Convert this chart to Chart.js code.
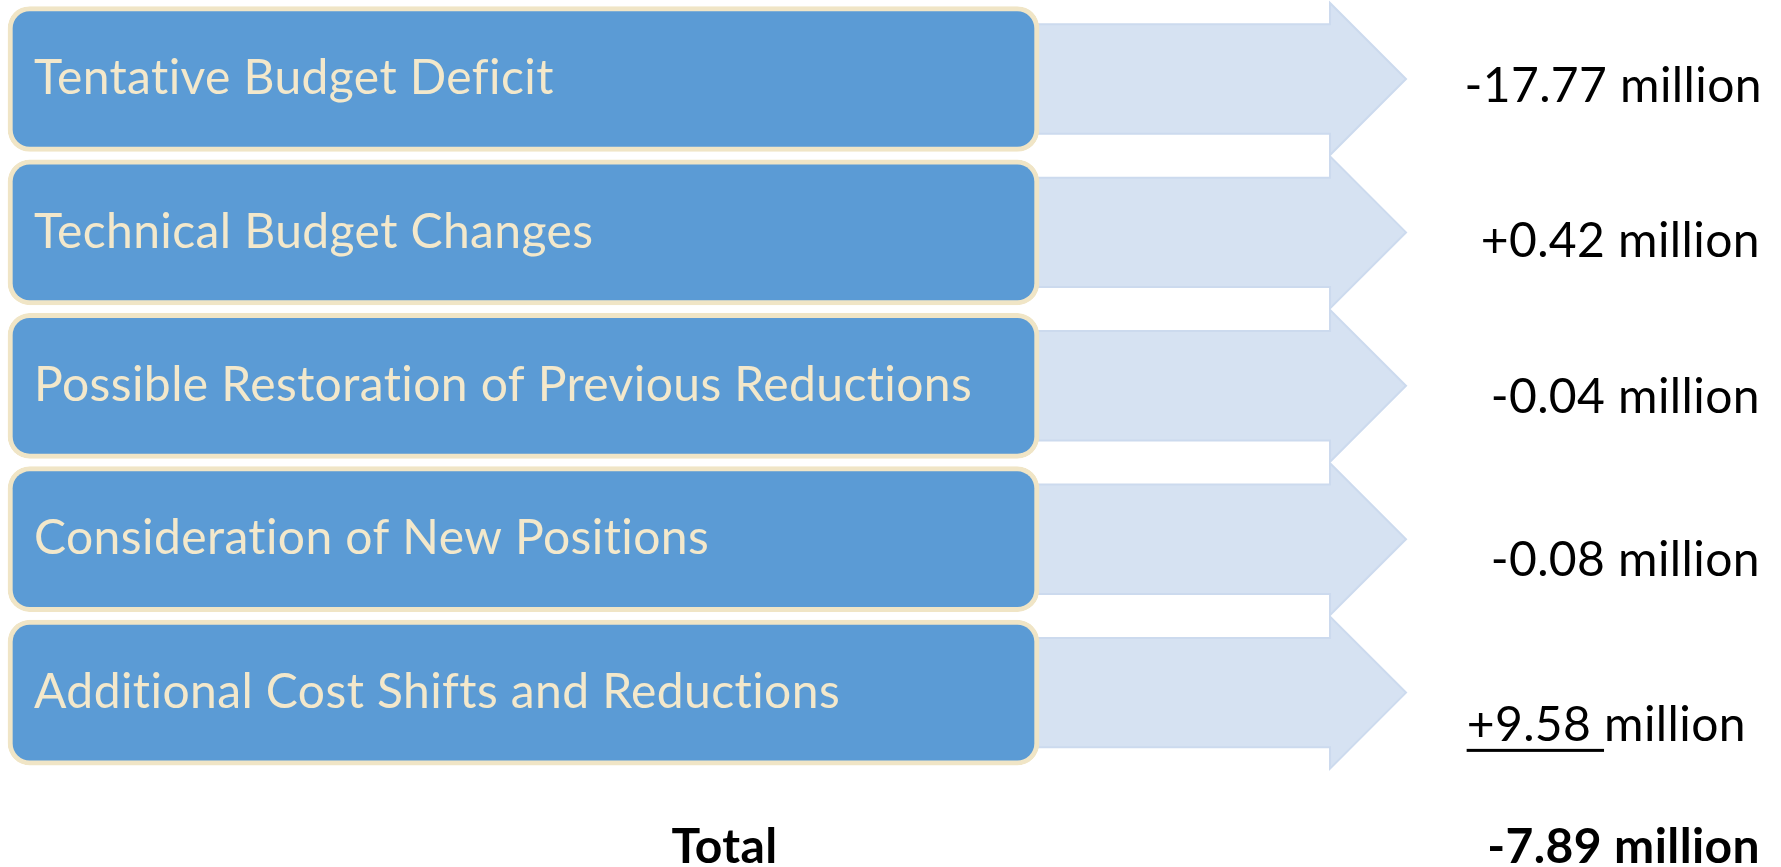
<!DOCTYPE html>
<html>
<head>
<meta charset="utf-8">
<script src="https://cdn.jsdelivr.net/npm/chart.js@4.4.0/dist/chart.umd.min.js"></script>
<style>
  html, body { margin: 0; background: #fff; }
  #wrap { width: 1781px; height: 867px; position: relative; }
</style>
</head>
<body>
<div id="wrap"><canvas id="chart"></canvas></div>
<script>
// ===== Budget bridge: steps from tentative deficit to total =====
const steps = [
  'Tentative Budget Deficit',
  'Technical Budget Changes',
  'Possible Restoration of Previous Reductions',
  'Consideration of New Positions',
  'Additional Cost Shifts and Reductions'
];
const changes = [-17.77, 0.42, -0.04, -0.08, 9.58];
const totalLabel = 'Total';
const totalValue = -7.89;
const unit = 'million';

const rows = [...steps, totalLabel];

const COLORS = {
  box: '#5B9BD5', boxEdge: '#F0E5C6', label: '#F3E8CB',
  arrow: '#D6E2F2', arrowEdge: '#CCDAEE', text: '#000000'
};
const FONT = 'Lato, "Open Sans", sans-serif';
const TXT = 48;                       // px, label + value text
// small hand nudges so the value column sits like the slide
const valueDrop = [6, 7, 10, 20, 31, 0];
const valueInset = [19, 21, 21, 21, 35, 21];

const fmt = v => (v > 0 ? '+' : '') + v.toFixed(2);

// arrows are drawn under the boxes, from the (invisible) arrow bars
const arrowPlugin = {
  id: 'arrows',
  beforeDatasetsDraw(chart) {
    const ctx = chart.ctx;
    const meta = chart.getDatasetMeta(1);
    ctx.save();
    meta.data.forEach(el => {
      const { x, base, y, height } = el.getProps(['x', 'base', 'y', 'height'], true);
      if (![x, base, y, height].every(Number.isFinite)) return;
      const half = height / 2, shaft = half * 0.72, headX = x - half;
      ctx.beginPath();
      ctx.moveTo(base, y - shaft);
      ctx.lineTo(headX, y - shaft);
      ctx.lineTo(headX, y - half);
      ctx.lineTo(x, y);
      ctx.lineTo(headX, y + half);
      ctx.lineTo(headX, y + shaft);
      ctx.lineTo(base, y + shaft);
      ctx.closePath();
      ctx.fillStyle = COLORS.arrow;
      ctx.fill();
      ctx.strokeStyle = COLORS.arrowEdge;
      ctx.lineWidth = 2;
      ctx.stroke();
    });
    ctx.restore();
  }
};

const textPlugin = {
  id: 'texts',
  afterDatasetsDraw(chart) {
    const { ctx, chartArea, scales: { x, y } } = chart;
    ctx.save();
    ctx.letterSpacing = '0.4px';   // also stops the "ti" ligature
    rows.forEach((name, i) => {
      const cy = y.getPixelForValue(i);
      const isTotal = i === steps.length;
      ctx.textBaseline = 'alphabetic';
      if (!isTotal) {
        ctx.font = `${TXT}px ${FONT}`;
        ctx.fillStyle = COLORS.label;
        ctx.textAlign = 'left';
        ctx.fillText(name, x.getPixelForValue(0) + 26, cy + TXT * 0.36 - 2);
      } else {
        ctx.font = `bold ${TXT}px ${FONT}`;
        ctx.fillStyle = COLORS.text;
        ctx.textAlign = 'center';
        ctx.fillText(name, x.getPixelForValue(0.695), cy + TXT * 0.36);
      }

      // value column
      const val = isTotal ? totalValue : changes[i];
      const num = fmt(val) + ' ';
      const str = num + unit;
      ctx.font = `${isTotal ? 'bold ' : ''}${TXT}px ${FONT}`;
      ctx.fillStyle = COLORS.text;
      ctx.textAlign = 'left';
      const w = ctx.measureText(str).width;
      const x0 = chartArea.right - valueInset[i] - w;
      const baseY = cy + valueDrop[i] + TXT * 0.36;
      ctx.fillText(str, x0, baseY);
      if (i === steps.length - 1) {
        const nw = ctx.measureText(num).width;
        ctx.fillRect(x0, baseY + 8, nw, 3);
      }
    });
    ctx.restore();
  }
};

new Chart(document.getElementById('chart'), {
  type: 'bar',
  data: {
    labels: rows,
    datasets: [
      {
        label: 'steps',
        data: steps.map(() => [0, 1]),
        backgroundColor: COLORS.box,
        borderColor: COLORS.boxEdge,
        borderWidth: 5,
        borderRadius: 22,
        borderSkipped: false,
        barThickness: 145,
        grouped: false,
        clip: false,
        order: 0
      },
      {
        label: 'arrows',
        data: steps.map(() => [0.9, 1.356]),
        backgroundColor: 'rgba(0,0,0,0)',
        borderWidth: 0,
        barThickness: 152,
        grouped: false,
        clip: false,
        order: 1
      }
    ]
  },
  options: {
    indexAxis: 'y',
    responsive: true, maintainAspectRatio: false,
    animation: false, events: [],
    layout: { padding: { top: 79, bottom: 21, left: 0, right: 0 } },
    plugins: { legend: { display: false }, tooltip: { enabled: false } },
    scales: {
      x: { type: 'linear', min: -0.00776, max: 1.7197, display: false },
      y: { type: 'category', offset: false, display: false }
    }
  },
  plugins: [arrowPlugin, textPlugin]
});
</script>
</body>
</html>
